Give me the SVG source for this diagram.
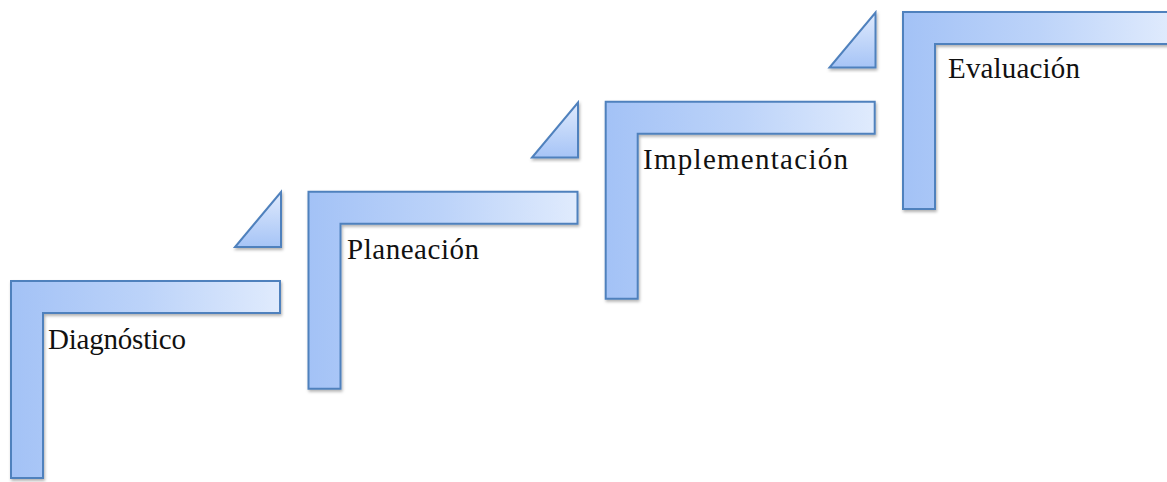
<svg xmlns="http://www.w3.org/2000/svg" width="1167" height="482" viewBox="0 0 1167 482">
  <defs>
    <linearGradient id="gL" x1="0" y1="0" x2="1" y2="0">
      <stop offset="0" stop-color="#a3c2f6"/>
      <stop offset="0.5" stop-color="#bcd3f9"/>
      <stop offset="1" stop-color="#e0ebfd"/>
    </linearGradient>
    <linearGradient id="gT" x1="0" y1="0" x2="0" y2="1">
      <stop offset="0" stop-color="#dfeafd"/>
      <stop offset="1" stop-color="#a6c4f6"/>
    </linearGradient>
    <filter id="sh" x="-10%" y="-10%" width="120%" height="120%">
      <feDropShadow dx="1" dy="2" stdDeviation="1.5" flood-color="#000" flood-opacity="0.3"/>
    </filter>
    <path id="ell" d="M0,0 H269 V32 H32 V197 H0 Z"/>
    <path id="tri" d="M46,0 L46,55 L0,55 Z"/>
  </defs>
  <style>
    .shape { fill: url(#gL); stroke: #4f81bd; stroke-width: 2; filter: url(#sh); }
    .tri { fill: url(#gT); stroke: #4f81bd; stroke-width: 2; filter: url(#sh); }
    .lbl { font-family: "Liberation Serif", "DejaVu Serif", serif; font-size: 29px; fill: #111; }
  </style>
  <g id="connectors"/>
  <g id="step1">
    <use href="#ell" class="shape" x="11" y="281"/>
    <text class="lbl" x="48" y="349" textLength="138" lengthAdjust="spacing">Diagnóstico</text>
  </g>
  <g id="step2">
    <use href="#tri" class="tri" x="235" y="192"/>
    <use href="#ell" class="shape" x="308.5" y="191.7"/>
    <text class="lbl" x="347" y="258.5" textLength="132" lengthAdjust="spacing">Planeación</text>
  </g>
  <g id="step3">
    <use href="#tri" class="tri" x="532" y="102.5"/>
    <use href="#ell" class="shape" x="605.7" y="101.7"/>
    <text class="lbl" x="643" y="169.3" textLength="205" lengthAdjust="spacing">Implementación</text>
  </g>
  <g id="step4">
    <use href="#tri" class="tri" x="829.5" y="12.5"/>
    <use href="#ell" class="shape" x="903" y="12"/>
    <text class="lbl" x="948" y="78.3" textLength="132" lengthAdjust="spacing">Evaluación</text>
  </g>
</svg>
